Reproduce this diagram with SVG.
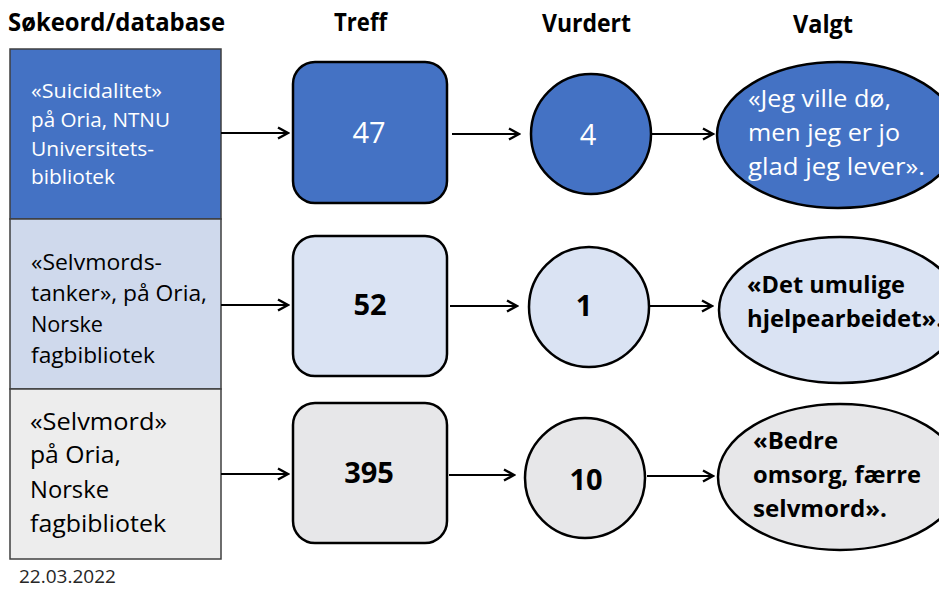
<svg xmlns="http://www.w3.org/2000/svg" width="939" height="589" viewBox="0 0 939 589">
  <style>
    text { font-family: "Open Sans", "Noto Sans", "Liberation Sans", sans-serif; }
    .hdr { font-weight: 700; font-size: 25.5px; fill: #000; }
    .cell { stroke: #3f3f3f; stroke-width: 1.5; }
    .node { stroke: #000; stroke-width: 2.5; }
    .wt { fill: #fff; }
    .bk { fill: #000; }
    .b { font-weight: 700; }
    .num { font-size: 29px; text-anchor: middle; }
    .blue { fill: #4472c4; }
    .lblue { fill: #dae3f3; }
    .grey { fill: #e7e7e9; }
    .conn line { stroke: #000; stroke-width: 2.2; }
  </style>
  <defs>
    <marker id="arrow" markerUnits="userSpaceOnUse" markerWidth="14" markerHeight="16" viewBox="-12 -8 14 16" refX="0" refY="0" orient="auto">
      <path d="M-10,-5.5 L0,0 L-10,5.5" fill="none" stroke="#000" stroke-width="2.4" stroke-linejoin="miter"/>
    </marker>
  </defs>

  <rect width="939" height="589" fill="#fff"/>

  <!-- column headers -->
  <g id="headers">
    <text class="hdr" x="8" y="31" textLength="217" lengthAdjust="spacingAndGlyphs">Søkeord/database</text>
    <text class="hdr" x="334" y="31" textLength="53" lengthAdjust="spacingAndGlyphs">Treff</text>
    <text class="hdr" x="542" y="32" textLength="89" lengthAdjust="spacingAndGlyphs">Vurdert</text>
    <text class="hdr" x="793" y="33" textLength="60" lengthAdjust="spacingAndGlyphs">Valgt</text>
  </g>

  <!-- search terms / databases -->
  <g id="search-1">
    <rect class="cell" x="10" y="49" width="211" height="170" fill="#4472c4"/>
    <g class="wt" font-size="20.5">
      <text x="31" y="98" textLength="131" lengthAdjust="spacingAndGlyphs">«Suicidalitet»</text>
      <text x="31" y="127" textLength="139" lengthAdjust="spacingAndGlyphs">på Oria, NTNU</text>
      <text x="31" y="156" textLength="123" lengthAdjust="spacingAndGlyphs">Universitets-</text>
      <text x="31" y="184" textLength="84" lengthAdjust="spacingAndGlyphs">bibliotek</text>
    </g>
  </g>
  <g id="search-2">
    <rect class="cell" x="10" y="219" width="211" height="170" fill="#cfd9ec"/>
    <g class="bk" font-size="22.5">
      <text x="31" y="270" textLength="131" lengthAdjust="spacingAndGlyphs">«Selvmords-</text>
      <text x="31" y="301" textLength="176" lengthAdjust="spacingAndGlyphs">tanker», på Oria,</text>
      <text x="31" y="332" textLength="72" lengthAdjust="spacingAndGlyphs">Norske</text>
      <text x="31" y="363" textLength="124" lengthAdjust="spacingAndGlyphs">fagbibliotek</text>
    </g>
  </g>
  <g id="search-3">
    <rect class="cell" x="10" y="389" width="211" height="170" fill="#ededed"/>
    <g class="bk" font-size="24.5">
      <text x="30" y="430" textLength="137" lengthAdjust="spacingAndGlyphs">«Selvmord»</text>
      <text x="30" y="463" textLength="91" lengthAdjust="spacingAndGlyphs">på Oria,</text>
      <text x="30" y="498" textLength="79" lengthAdjust="spacingAndGlyphs">Norske</text>
      <text x="30" y="532" textLength="136" lengthAdjust="spacingAndGlyphs">fagbibliotek</text>
    </g>
  </g>

  <!-- hits -->
  <g id="hits-1">
    <rect class="node blue" x="293" y="62" width="154" height="141" rx="22"/>
    <text class="num wt" x="369" y="143">47</text>
  </g>
  <g id="hits-2">
    <rect class="node lblue" x="293" y="236" width="154" height="140" rx="22"/>
    <text class="num bk b" x="370" y="315">52</text>
  </g>
  <g id="hits-3">
    <rect class="node grey" x="293" y="403" width="154" height="140" rx="22"/>
    <text class="num bk b" x="369" y="483">395</text>
  </g>

  <!-- assessed -->
  <g id="assessed-1">
    <circle class="node blue" cx="591" cy="134" r="60"/>
    <text class="num wt" x="588" y="145">4</text>
  </g>
  <g id="assessed-2">
    <circle class="node lblue" cx="589" cy="307" r="60"/>
    <text class="num bk b" x="584" y="316">1</text>
  </g>
  <g id="assessed-3">
    <circle class="node grey" cx="585" cy="478" r="60"/>
    <text class="num bk b" x="586" y="490" font-size="32">10</text>
  </g>

  <!-- selected -->
  <g id="selected-1">
    <ellipse class="node blue" cx="838" cy="135" rx="121" ry="73"/>
    <g class="wt" font-size="24">
      <text x="748" y="107" textLength="143" lengthAdjust="spacingAndGlyphs">«Jeg ville dø,</text>
      <text x="748" y="141" textLength="152" lengthAdjust="spacingAndGlyphs">men jeg er jo</text>
      <text x="748" y="175" textLength="177" lengthAdjust="spacingAndGlyphs">glad jeg lever».</text>
    </g>
  </g>
  <g id="selected-2">
    <ellipse class="node lblue" cx="840" cy="310" rx="121" ry="73"/>
    <g class="bk b" font-size="23">
      <text x="747" y="293" textLength="158" lengthAdjust="spacingAndGlyphs">«Det umulige</text>
      <text x="747" y="327" textLength="196" lengthAdjust="spacingAndGlyphs">hjelpearbeidet».</text>
    </g>
  </g>
  <g id="selected-3">
    <ellipse class="node grey" cx="840" cy="477" rx="122" ry="73"/>
    <g class="bk b" font-size="23">
      <text x="753" y="449" textLength="85" lengthAdjust="spacingAndGlyphs">«Bedre</text>
      <text x="753" y="483" textLength="168" lengthAdjust="spacingAndGlyphs">omsorg, færre</text>
      <text x="753" y="517" textLength="134" lengthAdjust="spacingAndGlyphs">selvmord».</text>
    </g>
  </g>

  <!-- connectors -->
  <g id="connectors" class="conn">
    <line x1="221" y1="133" x2="288" y2="133" marker-end="url(#arrow)"/>
    <line x1="452" y1="134" x2="519" y2="134" marker-end="url(#arrow)"/>
    <line x1="652" y1="134" x2="713" y2="134" marker-end="url(#arrow)"/>
    <line x1="221" y1="305" x2="288" y2="305" marker-end="url(#arrow)"/>
    <line x1="450" y1="306" x2="517" y2="306" marker-end="url(#arrow)"/>
    <line x1="649" y1="306" x2="712" y2="306" marker-end="url(#arrow)"/>
    <line x1="221" y1="474" x2="288" y2="474" marker-end="url(#arrow)"/>
    <line x1="449" y1="475" x2="514" y2="475" marker-end="url(#arrow)"/>
    <line x1="647" y1="476" x2="713" y2="476" marker-end="url(#arrow)"/>
  </g>

  <text x="19" y="583" font-size="19" fill="#262626" textLength="97" lengthAdjust="spacingAndGlyphs">22.03.2022</text>
</svg>
